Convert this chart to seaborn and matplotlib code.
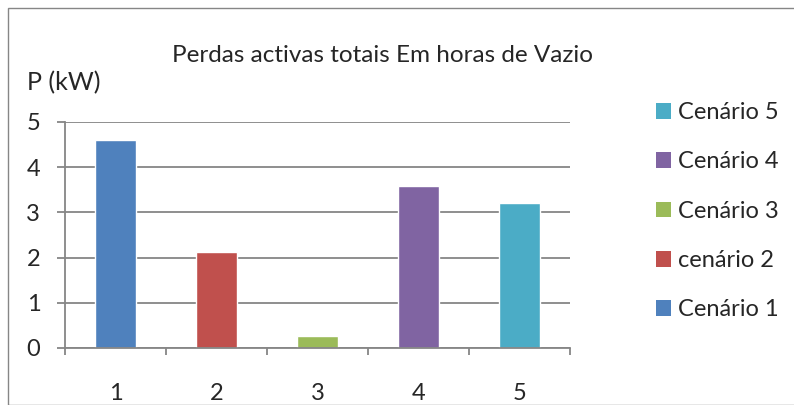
import matplotlib
matplotlib.use("Agg")
import matplotlib.pyplot as plt
import seaborn as sns
import pandas as pd
from matplotlib.patches import Rectangle, Patch

categories = ["1", "2", "3", "4", "5"]
series = ["Cenário 1", "cenário 2", "Cenário 3", "Cenário 4", "Cenário 5"]
values = [4.6, 2.12, 0.27, 3.58, 3.2]
colors = ["#4F81BD", "#C0504D", "#9BBB59", "#8064A2", "#4BACC6"]
yticks = [0, 1, 2, 3, 4, 5]

sns.set_theme(style="white")
plt.rcParams['font.family'] = ['Lato', 'DejaVu Sans']
FS = 17

df = pd.DataFrame({"cat": categories, "val": values, "serie": series})

fig = plt.figure(figsize=(7.94, 4.05), dpi=100)
ax = fig.add_axes([65/794, 1 - 348/405, 505/794, 226/405])

sns.barplot(data=df, x="cat", y="val", hue="serie", hue_order=series,
            palette=colors, dodge=False, width=0.4, ax=ax, legend=False,
            saturation=1)

grid_c = "#868686"
ax.set_xlim(-0.5, 4.5)
ax.set_ylim(0, 5)
ax.set_yticks(yticks)
ax.set_yticklabels([str(t) for t in yticks])
ax.yaxis.grid(True, color=grid_c, linewidth=1.3)
ax.set_axisbelow(True)
for s in ["top", "right"]:
    ax.spines[s].set_visible(False)
for s in ["left", "bottom"]:
    ax.spines[s].set_color(grid_c)
    ax.spines[s].set_linewidth(1.3)
ax.tick_params(axis="y", length=5.8, width=1.3, color=grid_c, labelsize=FS,
               pad=12, left=True)
ax.set_xticks(range(5))
ax.set_xticklabels(categories)
ax.set_xticks([i - 0.5 for i in range(6)], minor=True)
ax.tick_params(axis="x", which="major", length=0, labelsize=FS, pad=25)
ax.tick_params(axis="x", which="minor", length=5.2, width=1.3, color=grid_c,
               bottom=True)
ax.set_xlabel("")
ax.set_ylabel("")

fig.text(383/794, 1 - 56/405, "Perdas activas totais Em horas de Vazio",
         ha="center", va="center", fontsize=17.5)
fig.text(27/794, 1 - 83/405, "P (kW)", ha="left", va="center", fontsize=18)

handles = [Patch(facecolor=c, edgecolor="none") for c in colors][::-1]
labels = series[::-1]
leg = fig.legend(handles, labels, loc="upper left",
                 bbox_to_anchor=(656/794, 1 - 102/405), frameon=False,
                 fontsize=FS, handlelength=0.64, handleheight=0.64,
                 handletextpad=0.3, labelspacing=1.2, borderpad=0,
                 borderaxespad=0)

fig.patches.append(Rectangle((8/794, 0), 1.0, 1 - 8/405,
                             transform=fig.transFigure, fill=False,
                             edgecolor="#868686", linewidth=1.0))

fig.savefig("out.png", dpi=100)
